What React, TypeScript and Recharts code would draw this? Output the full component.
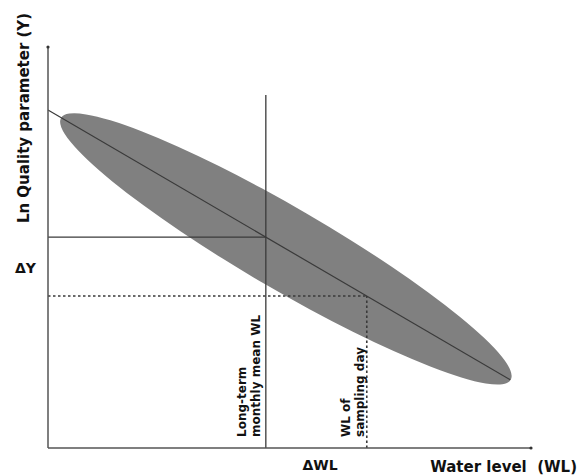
import { ComposedChart, Line, XAxis, YAxis, ReferenceLine, ReferenceDot } from 'recharts';

// regression line through the cloud (WL vs ln Y)
const lineWL = [0, 95.7];
const lineY = [84.3, 17.0];

// long-term monthly mean
const meanWL = 45.1;
const meanY = 52.6;
const meanLineTop = 88.0;

// sampling day
const sampleWL = 66.0;
const sampleY = 37.9;

// cloud of observations (major axis end points)
const cloudWL = [2.7, 95.8];
const cloudY = [82.3, 17.0];

const regression = lineWL.map((wl, i) => ({ wl, y: lineY[i] }));

const FONT = '"DejaVu Sans", Verdana, sans-serif';
const INK = '#3a3a3a';
const TEXT = '#111';

function CloudShape(props: any) {
  const { x1, y1, x2, y2 } = props;
  const cx = (x1 + x2) / 2;
  const cy = (y1 + y2) / 2;
  const rx = Math.hypot(x2 - x1, y2 - y1) / 2;
  const angle = (Math.atan2(y2 - y1, x2 - x1) * 180) / Math.PI;
  return (
    <ellipse cx={cx} cy={cy} rx={rx} ry={41} fill="#808080" transform={`rotate(${angle} ${cx} ${cy})`} />
  );
}

const meanLabel = ({ viewBox }: any) => {
  const x = viewBox.x;
  const bottom = viewBox.y + viewBox.height;
  return (
    <text transform={`translate(${x} ${bottom - 11}) rotate(-90)`} fontFamily={FONT} fontSize={12} fontWeight="bold" fill={TEXT}>
      <tspan x={0} y={-20}>Long-term</tspan>
      <tspan x={0} y={-6}>monthly mean WL</tspan>
    </text>
  );
};

const sampleLabel = ({ viewBox }: any) => {
  const x = viewBox.x;
  const bottom = viewBox.y + viewBox.height;
  return (
    <text transform={`translate(${x} ${bottom - 11}) rotate(-90)`} fontFamily={FONT} fontSize={12} fontWeight="bold" fill={TEXT}>
      <tspan x={0} y={-17}>WL of</tspan>
      <tspan x={0} y={-3}>sampling day</tspan>
    </text>
  );
};

const xLabels = ({ viewBox }: any) => {
  const y = viewBox.y;
  return (
    <g fontFamily={FONT} fontWeight="bold" fill={TEXT}>
      <text x={320} y={y + 22} fontSize={14} textAnchor="middle">ΔWL</text>
      <text x={577} y={y + 24} fontSize={15} textAnchor="end" style={{ whiteSpace: 'pre' }}>Water level  (WL)</text>
    </g>
  );
};

const yLabels = ({ viewBox }: any) => {
  const x = viewBox.x;
  return (
    <g fontFamily={FONT} fontWeight="bold" fill={TEXT}>
      <text transform={`translate(${x - 19} 118) rotate(-90)`} fontSize={15} textAnchor="middle">Ln Quality parameter (Y)</text>
      <text x={x - 33} y={273} fontSize={14}>ΔY</text>
    </g>
  );
};

export default function App() {
  return (
    <div style={{ position: 'absolute', left: 0, top: 0, width: 580, height: 476, background: '#fff' }}>
      <ComposedChart width={580} height={476} data={regression} margin={{ top: 47, left: 48, right: 49, bottom: 28 }}>
        <XAxis dataKey="wl" type="number" domain={[0, 100]} hide />
        <YAxis type="number" domain={[0, 100]} hide />
        <ReferenceLine
          segment={[{ x: cloudWL[0], y: cloudY[0] }, { x: cloudWL[1], y: cloudY[1] }]}
          shape={CloudShape}
          ifOverflow="visible"
        />
        <ReferenceLine
          segment={[{ x: meanWL, y: 0 }, { x: meanWL, y: meanLineTop }]}
          stroke={INK}
          strokeWidth={1.3}
          label={meanLabel}
        />
        <ReferenceLine segment={[{ x: 0, y: meanY }, { x: meanWL, y: meanY }]} stroke={INK} strokeWidth={1.3} />
        <ReferenceLine
          segment={[{ x: sampleWL, y: 0 }, { x: sampleWL, y: sampleY }]}
          stroke={INK}
          strokeWidth={1.6}
          strokeDasharray="2.5 2.5"
          label={sampleLabel}
        />
        <ReferenceLine segment={[{ x: 0, y: sampleY }, { x: sampleWL, y: sampleY }]} stroke={INK} strokeWidth={1.6} strokeDasharray="2.5 2.5" />
        <Line dataKey="y" type="linear" stroke={INK} strokeWidth={1.2} dot={false} activeDot={false} isAnimationActive={false} />
        {/* axes */}
        <ReferenceLine segment={[{ x: 0, y: 0 }, { x: 100, y: 0 }]} stroke="#555" strokeWidth={1.5} label={xLabels} ifOverflow="visible" />
        <ReferenceLine segment={[{ x: 0, y: 0 }, { x: 0, y: 100 }]} stroke="#555" strokeWidth={1.5} label={yLabels} ifOverflow="visible" />
        <ReferenceDot x={0} y={100} r={1.6} fill="#333" stroke="none" ifOverflow="visible" />
        <ReferenceDot x={100} y={0} r={1.6} fill="#333" stroke="none" ifOverflow="visible" />
      </ComposedChart>
    </div>
  );
}
